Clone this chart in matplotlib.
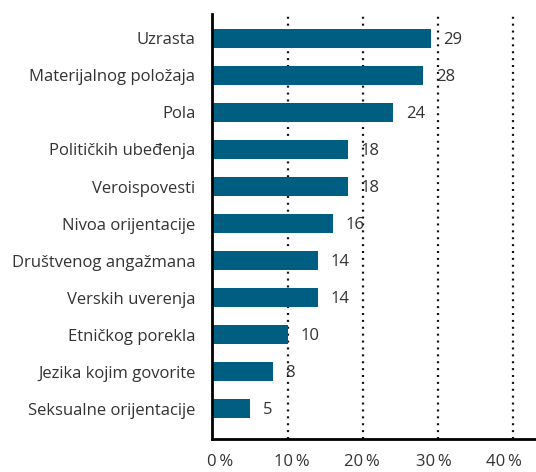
import matplotlib
matplotlib.use("Agg")
import matplotlib.pyplot as plt
from matplotlib.transforms import ScaledTranslation

categories = ["Uzrasta", "Materijalnog položaja", "Pola", "Političkih ubeđenja",
              "Veroispovesti", "Nivoa orijentacije", "Društvenog angažmana",
              "Verskih uverenja", "Etničkog porekla", "Jezika kojim govorite",
              "Seksualne orijentacije"]
values = [29, 28, 24, 18, 18, 16, 14, 14, 10, 8, 5]
xticks = [0, 10, 20, 30, 40]
xticklabels = ["0\u2009%", "10\u2009%", "20\u2009%", "30\u2009%", "40\u2009%"]

plt.rcParams['font.family'] = ['Open Sans', 'DejaVu Sans']
W, H = 536, 472
fig = plt.figure(figsize=(W/100, H/100), dpi=100)
ax = fig.add_axes([212.3/W, (H-439)/H, (W-212.3)/W, (439-14)/H])

color = "#005e83"
txt = "#333333"
y = list(range(len(categories)))
ax.barh(y, values, height=0.52, color=color, zorder=2)
ax.set_ylim(10.82, -0.66)
ax.set_xlim(0, 43)

for xi in xticks[1:]:
    ax.axvline(xi, color="#111111", lw=1.6, linestyle=(0, (0.9, 2.2)), zorder=1)

for yi, v in zip(y, values):
    ax.text(v + 1.7, yi + 0.04, str(v), va="center", ha="left", fontsize=12, color=txt)

ax.set_yticks(y)
ax.set_yticklabels(categories, fontsize=12, color=txt)
ax.set_xticks(xticks)
ax.set_xticklabels(xticklabels, fontsize=12, color=txt)
ax.tick_params(axis="y", length=0, pad=12.2)
ax.tick_params(axis="x", length=0, pad=11)

# tick labels in the reference drift slightly relative to gridlines
for k, lbl in enumerate(ax.get_xticklabels()):
    dx = (8 - 4.25 * k) / 100
    lbl.set_transform(lbl.get_transform() + ScaledTranslation(dx, 0, fig.dpi_scale_trans))

for s in ["top", "right"]:
    ax.spines[s].set_visible(False)
ax.spines["left"].set_linewidth(2)
ax.spines["bottom"].set_linewidth(2)
ax.spines["left"].set_color("black")
ax.spines["bottom"].set_color("black")

fig.savefig("out.png", dpi=100)
